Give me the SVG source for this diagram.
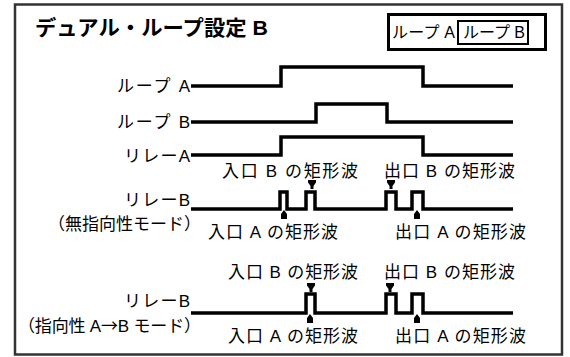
<svg xmlns="http://www.w3.org/2000/svg" width="570" height="357" viewBox="0 0 570 357">
<style>
text{font-family:"Liberation Sans","Noto Sans CJK JP",sans-serif;font-size:17px;fill:#000}
.title{font-size:21px;font-weight:bold}
.leg{font-size:16px}
.cjk{font-family:"Noto Sans CJK JP",sans-serif}
.sig{fill:none;stroke:#000;stroke-width:3.5;stroke-linejoin:miter}
</style>
<defs>
<polygon id="down" points="-4,0 4,0 4,2.5 1.5,6 1.5,9 -1.5,9 -1.5,6 -4,2.5" fill="#000"/>
<polygon id="up" points="0,0 3,4 3,9 -3,9 -3,4" fill="#000"/>
</defs>
<rect x="15" y="4.5" width="547" height="350" fill="#fff" stroke="#333" stroke-width="2.5"/>
<text class="title" x="35" y="35" textLength="233" lengthAdjust="spacingAndGlyphs">デュアル・ループ設定 B</text>
<g id="legend">
<rect x="388.5" y="14.5" width="157" height="35" fill="none" stroke="#000" stroke-width="3"/>
<rect x="458" y="21" width="70" height="23" fill="none" stroke="#000" stroke-width="2"/>
<text class="leg" x="392" y="38" textLength="63">ループ A</text>
<text class="leg" x="463" y="38" textLength="62">ループ B</text>
</g>
<g id="loopA">
<text x="117" y="92" textLength="73">ループ A</text>
</g>
<g id="loopB">
<text x="117" y="128" textLength="73">ループ B</text>
</g>
<g id="relayA">
<text x="124" y="162" textLength="66">リレーA</text>
<text x="222" y="177" textLength="136">入口 B の矩形波</text>
<text x="384" y="177" textLength="131">出口 B の矩形波</text>
</g>
<g id="relayB1">
<text x="124" y="206" textLength="66">リレーB</text>
<text x="201" y="230" text-anchor="end">（無指向性モード）</text>
<text x="208" y="238" textLength="130">入口 A の矩形波</text>
<text x="395" y="238" textLength="131">出口 A の矩形波</text>
</g>
<g id="relayB2">
<text x="228" y="278" textLength="130">入口 B の矩形波</text>
<text x="384" y="278" textLength="131">出口 B の矩形波</text>
<text x="124" y="307" textLength="66">リレーB</text>
<text x="18" y="332" textLength="183">（指向性 A<tspan class="cjk">→</tspan>B モード）</text>
<text x="228" y="342" textLength="130">入口 A の矩形波</text>
<text x="395" y="342" textLength="131">出口 A の矩形波</text>
</g>
<g id="connectors">
<path class="sig" d="M191,86 H281 V67 H423 V86 H513"/>
<path class="sig" d="M191,122 H316 V104 H387 V122 H513"/>
<path class="sig" d="M191,155 H281 V137 H423 V155 H513"/>
<path class="sig" d="M191,209 H280 V192 H287 V209 H306 V192 H315 V209 H386 V192 H396 V209 H412 V192 H423 V209 H513"/>
<path class="sig" d="M191,313 H306 V294 H315 V313 H386 V294 H396 V313 H412 V294 H423 V313 H513"/>
<use href="#up" x="284" y="210"/>
<use href="#down" x="312" y="180"/>
<use href="#down" x="391" y="180"/>
<use href="#up" x="417" y="210"/>
<use href="#down" x="311" y="283"/>
<use href="#up" x="310" y="314"/>
<use href="#down" x="390" y="283"/>
<use href="#up" x="417" y="314"/>
</g>
</svg>
